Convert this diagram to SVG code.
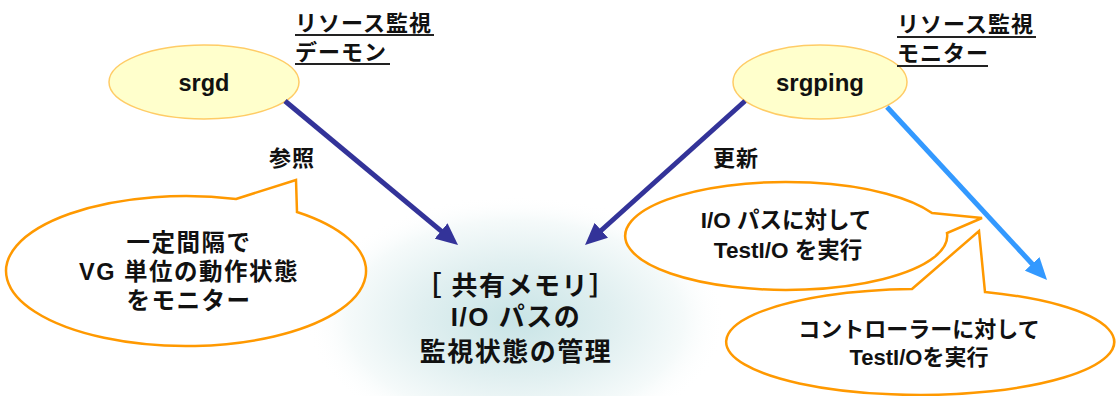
<svg xmlns="http://www.w3.org/2000/svg" width="1116" height="396" viewBox="0 0 1116 396">
<style>
.t{font-family:"Liberation Sans","Noto Sans CJK JP",sans-serif;font-weight:bold;fill:#111;text-anchor:middle}
.lbl{font-family:"Liberation Sans","Noto Sans CJK JP",sans-serif;font-weight:bold;fill:#111;font-size:22px;letter-spacing:1px}
.ul{stroke:#222;stroke-width:2}
.node{fill:#ffffcc;stroke:#ffcc66;stroke-width:1.5}
.callout{fill:#fff;stroke:#ff9900;stroke-width:2.5;stroke-linejoin:miter}
.dk{stroke:#333399;stroke-width:5;fill:none}
.lt{stroke:#3399ff;stroke-width:5;fill:none}
</style>
<defs>
<radialGradient id="glow" cx="0.5" cy="0.5" r="0.5">
<stop offset="0" stop-color="#c8e4e6"/>
<stop offset="0.45" stop-color="#e0eff0"/>
<stop offset="0.8" stop-color="#f5fafa"/>
<stop offset="1" stop-color="#ffffff" stop-opacity="0"/>
</radialGradient>
<marker id="ahD" markerUnits="userSpaceOnUse" markerWidth="24" markerHeight="20" refX="10" refY="10" orient="auto" viewBox="0 0 24 20">
<path d="M0,0 L22,10 L0,20 z" fill="#333399"/>
</marker>
<marker id="ahL" markerUnits="userSpaceOnUse" markerWidth="24" markerHeight="20" refX="10" refY="10" orient="auto" viewBox="0 0 24 20">
<path d="M0,0 L22,10 L0,20 z" fill="#3399ff"/>
</marker>
</defs>
<rect width="1116" height="396" fill="#fff"/>
<g id="shared-memory">
<ellipse cx="516" cy="320" rx="210" ry="125" fill="url(#glow)"/>
<text class="t" font-size="26" letter-spacing="1.5"><tspan x="516" y="295">［ 共有メモリ］</tspan><tspan x="516" y="326">I/O パスの</tspan><tspan x="516" y="361">監視状態の管理</tspan></text>
</g>
<g id="srgd">
<ellipse class="node" cx="204" cy="82" rx="95" ry="37"/>
<text class="t" x="204" y="91" font-size="23.5">srgd</text>
</g>
<g id="srgd-label">
<text class="lbl"><tspan x="295" y="31">リソース監視</tspan><tspan x="295" y="60">デーモン</tspan></text>
<line class="ul" x1="295" y1="35" x2="434" y2="35"/>
<line class="ul" x1="295" y1="64" x2="390" y2="64"/>
</g>
<g id="srgping">
<ellipse class="node" cx="820" cy="82" rx="87" ry="37"/>
<text class="t" x="820" y="91" font-size="24">srgping</text>
</g>
<g id="srgping-label">
<text class="lbl"><tspan x="897" y="32">リソース監視</tspan><tspan x="897" y="61">モニター</tspan></text>
<line class="ul" x1="897" y1="37" x2="1036" y2="37"/>
<line class="ul" x1="897" y1="66" x2="988" y2="66"/>
</g>
<g id="callout-srgd">
<path class="callout" d="M236,199 L296,180 L297,212 A180,75 0 1 1 236,199 Z"/>
<text class="t" font-size="23.5" letter-spacing="1.5"><tspan x="189" y="251">一定間隔で</tspan><tspan x="189" y="280">VG 単位の動作状態</tspan><tspan x="189" y="309">をモニター</tspan></text>
</g>
<g id="callout-iopath">
<path class="callout" d="M932,213 L982,218 L947,233 A161,54 0 1 1 932,213 Z"/>
<text class="t" font-size="22.5"><tspan x="786" y="228">I/O パスに対して</tspan><tspan x="788" y="258">TestI/O を実行</tspan></text>
</g>
<g id="callout-controller">
<path class="callout" d="M912,289 L979,231 L985,292 A194,53 0 1 1 912,289 Z"/>
<text class="t" font-size="22"><tspan x="919" y="337">コントローラーに対して</tspan><tspan x="919" y="365">TestI/Oを実行</tspan></text>
</g>
<g id="connectors">
<line class="dk" x1="285" y1="101" x2="448.8" y2="237.3" marker-end="url(#ahD)"/>
<line class="dk" x1="745" y1="101" x2="593.9" y2="237" marker-end="url(#ahD)"/>
<line class="lt" x1="887" y1="107" x2="1038.9" y2="271.2" marker-end="url(#ahL)"/>
<text class="t" x="292" y="166" font-size="22" letter-spacing="1">参照</text>
<text class="t" x="736" y="166" font-size="22" letter-spacing="1">更新</text>
</g>
</svg>
